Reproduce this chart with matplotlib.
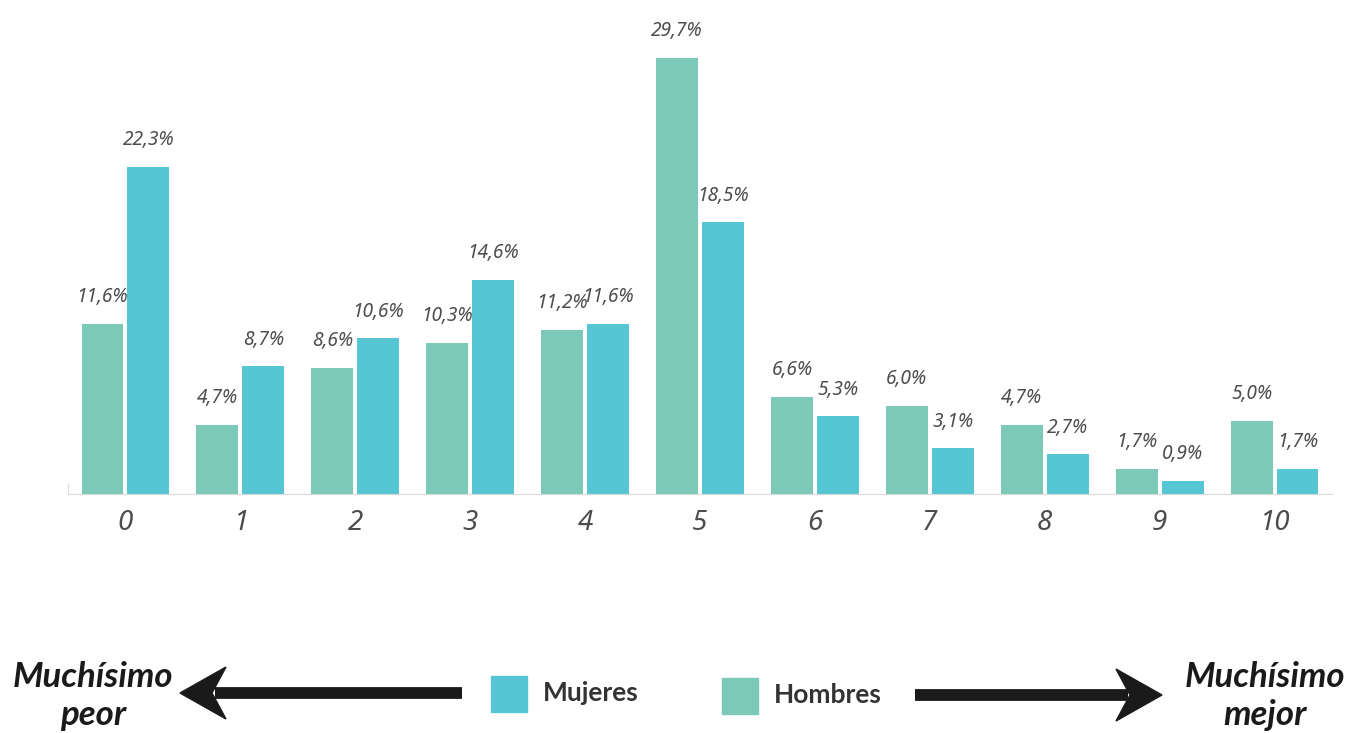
import matplotlib.pyplot as plt
import numpy as np
from matplotlib.patches import Polygon, Rectangle

# Datos: valoración 0-10, porcentaje por sexo
categorias = ['0', '1', '2', '3', '4', '5', '6', '7', '8', '9', '10']
hombres = [11.6, 4.7, 8.6, 10.3, 11.2, 29.7, 6.6, 6.0, 4.7, 1.7, 5.0]
mujeres = [22.3, 8.7, 10.6, 14.6, 11.6, 18.5, 5.3, 3.1, 2.7, 0.9, 1.7]
series = ['Hombres', 'Mujeres']

verde = '#7BC9B6'
azul = '#57C6D4'
texto = '#4d4d4d'

plt.rcParams['font.family'] = ['Noto Sans', 'DejaVu Sans']
negrita = ['Lato', 'DejaVu Sans']

W, H = 1367, 733
fig = plt.figure(figsize=(W / 100, H / 100), dpi=100)

# Área del gráfico de barras (en píxeles: x 68-1332, base en y=494)
ax = fig.add_axes([68 / W, (H - 494) / H, 1264 / W, 494 / H])
x = np.arange(len(categorias))
ancho = 0.365
b1 = ax.bar(x - 0.2, hombres, ancho, color=verde)
b2 = ax.bar(x + 0.2, mujeres, ancho, color=azul)

for barras, vals in ((b1, hombres), (b2, mujeres)):
    for rect, v in zip(barras, vals):
        ax.annotate(f'{v:.1f}%'.replace('.', ','),
                    (rect.get_x() + rect.get_width() / 2, v),
                    xytext=(0, 12), textcoords='offset points',
                    ha='center', va='bottom', fontsize=13.8,
                    style='italic', color=texto)

ax.set_xlim(-0.5, 10.5)
ax.set_ylim(0, 494 / 14.68)
ax.set_xticks(x)
ax.set_xticklabels(categorias, fontsize=20, style='italic', color=texto)
ax.tick_params(axis='x', length=0, pad=11)
ax.set_yticks([])
for s in ('top', 'right'):
    ax.spines[s].set_visible(False)
ax.spines['bottom'].set_color('#d9d9d9')
ax.spines['left'].set_color('#d9d9d9')
ax.spines['left'].set_bounds(0, 0.7)

# Capa inferior: leyenda, flechas y extremos de la escala
ov = fig.add_axes([0, 0, 1, 1])
ov.set_xlim(0, W)
ov.set_ylim(H, 0)
ov.axis('off')
ov.patch.set_alpha(0)

ov.add_patch(Rectangle((491, 676), 36, 36, color=azul))
ov.add_patch(Rectangle((722, 678), 36, 36, color=verde))
ov.text(543, 693, series[1], fontsize=19, fontweight='bold', color='#333333',
        va='center', ha='left', family=negrita)
ov.text(774, 695, series[0], fontsize=19, fontweight='bold', color='#333333',
        va='center', ha='left', family=negrita)

negro = '#1a1a1a'
# flecha izquierda
ov.plot([215, 462], [693, 693], color=negro, lw=8.5, solid_capstyle='butt')
ov.add_patch(Polygon([(180, 693), (226, 667), (212, 693), (226, 719)],
                     closed=True, color=negro))
# flecha derecha
ov.plot([915, 1128], [695, 695], color=negro, lw=8.5, solid_capstyle='butt')
ov.add_patch(Polygon([(1162, 695), (1116, 669), (1130, 695), (1116, 721)],
                     closed=True, color=negro))

ov.text(93, 696, 'Muchísimo\npeor', fontsize=25, fontweight='bold',
        style='italic', color=negro, ha='center', va='center',
        linespacing=1.2, family=negrita)
ov.text(1265, 696, 'Muchísimo\nmejor', fontsize=25, fontweight='bold',
        style='italic', color=negro, ha='center', va='center',
        linespacing=1.2, family=negrita)

fig.savefig('out.png', dpi=100)
